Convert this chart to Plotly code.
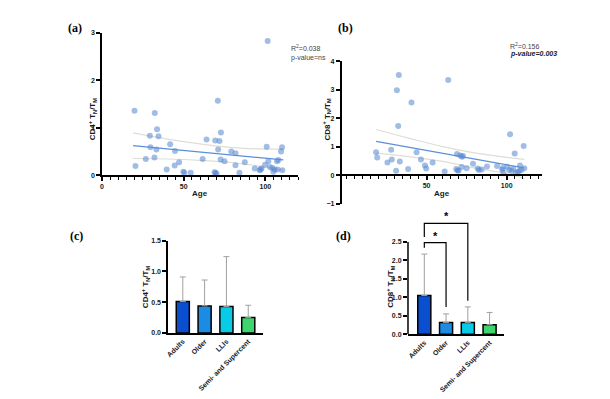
import plotly.graph_objects as go

# ---------------- data ----------------
age_a = [19.9, 20.5, 26.8, 29.3, 29.7, 32.3, 32.1, 33.7, 33.3, 34.6, 39.6, 41.7, 44.7, 44.5, 47.2,
         49.8, 50.4, 54.3, 61.6, 64.0, 68.9, 69.3, 70.9, 71.1, 71.9, 72.8, 72.6, 75.0, 69.5, 70.1,
         79.1, 81.7, 81.7, 84.1, 87.4, 93.5, 96.5, 97.6, 99.8, 100.8, 101.4, 101.8, 102.8, 104.3,
         104.9, 105.7, 107.1, 108.0, 107.5, 109.6, 110.2, 110.4, 97.0]
val_a = [1.36, 0.19, 0.34, 0.83, 0.59, 1.31, 0.37, 0.97, 0.54, 0.82, 0.12, 0.65, 0.51, 0.20, 0.27,
         0.07, 0.05, 0.05, 0.34, 0.75, 0.06, 0.73, 1.57, 0.54, 0.72, 0.90, 0.33, 0.29, 0.05, 0.03,
         0.50, 0.46, 0.21, 0.05, 0.27, 0.14, 0.10, 0.14, 0.22, 0.60, 2.83, 0.29, 0.17, 0.15,
         0.07, 0.12, 0.29, 0.32, 0.12, 0.50, 0.59, 0.10, 0.12]

age_b = [18.5, 19.2, 25.6, 27.9, 28.3, 31.0, 31.5, 32.7, 32.3, 33.3, 38.5, 40.6, 43.8, 46.5, 49.0,
         49.8, 53.8, 61.3, 63.5, 69.0, 68.5, 69.4, 70.0, 71.0, 72.1, 72.7, 71.9, 75.0, 79.0, 81.9,
         82.7, 84.4, 87.7, 94.0, 97.1, 97.9, 100.4, 101.5, 102.1, 103.1, 104.0, 105.0, 105.8, 106.9,
         107.9, 108.3, 109.2, 110.6, 111.0, 97.7]
val_b = [0.80, 0.62, 0.44, 0.89, 0.55, 0.15, 2.98, 3.51, 1.72, 0.48, 0.21, 2.55, 0.80, 0.55, 0.34,
         0.23, 0.44, 0.13, 3.34, 0.74, 0.21, 0.16, 0.16, 0.69, 0.64, 0.67, 0.28, 0.24, 0.40, 0.23,
         0.18, 0.20, 0.30, 0.32, 0.20, 0.08, 0.29, 0.18, 1.43, 0.14, 0.22, 0.76, 0.08, 0.11,
         0.15, 0.34, 0.18, 1.02, 0.24, 0.25]

fit_x_a = [19, 111]
fit_y_a = [0.62, 0.32]
band_x_a = [19, 40, 60, 80, 100, 111]
band_hi_a = [0.89, 0.76, 0.66, 0.58, 0.55, 0.55]
band_lo_a = [0.35, 0.34, 0.31, 0.26, 0.17, 0.10]

fit_x_b = [18.5, 111]
fit_y_b = [1.18, 0.25]
band_x_b = [18.5, 40, 60, 80, 100, 111]
band_hi_b = [1.60, 1.28, 1.00, 0.78, 0.62, 0.55]
band_lo_b = [0.77, 0.64, 0.48, 0.25, 0.05, -0.12]

groups = ["Adults", "Older", "LLIs", "Semi- and Supercent"]
bar_colors = ["#0a4fcf", "#1c8be3", "#08cbe6", "#3ed46e"]
mean_c = [0.51, 0.44, 0.43, 0.25]
upper_c = [0.91, 0.86, 1.24, 0.45]
mean_d = [1.05, 0.32, 0.32, 0.26]
upper_d = [2.17, 0.55, 0.74, 0.59]

# significance brackets (panel d): (left group, right group, left-foot y, bar y, right-foot y)
brackets = [("Adults", "Older", 2.34, 2.48, 0.74),
            ("Adults", "LLIs", 2.63, 3.00, 0.91)]
star_x = [0.5, 1.0]
star_y = [2.66, 3.19]

# ---------------- layout helpers ----------------
W, H = 610, 399
OFF = 8  # page body margin offset
def px(x):
    return (x - OFF) / W
def py(y):
    return 1 - (y - OFF) / H

FONT = "Liberation Sans"
PT = "rgba(86,134,208,0.55)"
LINE = "#5a8fd8"
BAND = "#deded6"

fig = go.Figure()

def scatter_panel(ax, ay, ages, vals, fx, fy, bx, bhi, blo):
    fig.add_trace(go.Scatter(x=bx, y=bhi, mode="lines", line=dict(color=BAND, width=1.2, shape="spline"),
                             xaxis=ax, yaxis=ay, hoverinfo="skip"))
    fig.add_trace(go.Scatter(x=bx, y=blo, mode="lines", line=dict(color=BAND, width=1.2, shape="spline"),
                             xaxis=ax, yaxis=ay, hoverinfo="skip"))
    fig.add_trace(go.Scatter(x=ages, y=vals, mode="markers",
                             marker=dict(color=PT, size=6, line=dict(width=0)),
                             xaxis=ax, yaxis=ay))
    fig.add_trace(go.Scatter(x=fx, y=fy, mode="lines", line=dict(color=LINE, width=1.3),
                             xaxis=ax, yaxis=ay))

scatter_panel("x", "y", age_a, val_a, fit_x_a, fit_y_a, band_x_a, band_hi_a, band_lo_a)
scatter_panel("x2", "y2", age_b, val_b, fit_x_b, fit_y_b, band_x_b, band_hi_b, band_lo_b)

def bar_panel(ax, ay, means, uppers):
    fig.add_trace(go.Bar(x=groups, y=means, width=0.6,
                         marker=dict(color=bar_colors, line=dict(color="black", width=1.5)),
                         error_y=dict(type="data", symmetric=False,
                                      array=[u - m for u, m in zip(uppers, means)],
                                      arrayminus=[0] * len(means),
                                      color="#a0a0a0", thickness=1, width=3),
                         xaxis=ax, yaxis=ay))

bar_panel("x3", "y3", mean_c, upper_c)
bar_panel("x4", "y4", mean_d, upper_d)

for g0, g1, yl, yt, yr in brackets:
    fig.add_trace(go.Scatter(x=[g0, g0, g1, g1], y=[yl, yt, yt, yr], mode="lines",
                             line=dict(color="black", width=1.2), xaxis="x4", yaxis="y4",
                             hoverinfo="skip"))

tickfont = dict(family=FONT, size=7, color="#1a1a1a", weight="bold")
base = dict(showline=True, linecolor="black", linewidth=1.5, ticks="outside", ticklen=4,
            tickwidth=1.5, tickcolor="black", showgrid=False, zeroline=False, tickfont=tickfont)
minor = dict(dtick=5, tick0=0, ticks="outside", ticklen=3, tickwidth=1, tickcolor="black", showgrid=False)

# panel b geometry
yb_rng = [-1, 4]
yb_dom = [py(203), py(58)]
xb_pos = yb_dom[0] + (0 - yb_rng[0]) / (yb_rng[1] - yb_rng[0]) * (yb_dom[1] - yb_dom[0])

# panel d geometry
yd_rng = [0, 3.36]
yd_dom = [py(336), py(336 - 3.36 * 37.6)]

fig.update_layout(
    width=W, height=H, margin=dict(l=0, r=0, t=0, b=0),
    paper_bgcolor="white", plot_bgcolor="rgba(0,0,0,0)", showlegend=False,
    font=dict(family=FONT, color="#1a1a1a"),
    xaxis=dict(base, domain=[px(100.3), px(297)], range=[0, 120], tickmode="array",
               tickvals=[0, 50, 100], minor=minor, anchor="y"),
    yaxis=dict(base, domain=[py(174), py(29.3)], range=[0, 3], dtick=1, anchor="x"),
    xaxis2=dict(base, domain=[px(340.7), px(541.7)], range=[-3, 122], tickmode="array",
                tickvals=[50, 100], minor=minor, anchor="free", position=xb_pos),
    yaxis2=dict(base, domain=yb_dom, range=yb_rng, dtick=1, anchor="x2"),
    xaxis3=dict(base, domain=[px(166.7), px(261.7)], type="category", range=[-0.67, 3.67],
                ticks="", tickangle=-45, anchor="y3"),
    yaxis3=dict(base, domain=[py(334.7), py(240.7)], range=[0, 1.5], tickmode="array",
                tickvals=[0, 0.5, 1.0, 1.5], tickformat=".1f", anchor="x3"),
    xaxis4=dict(base, domain=[px(407.3), px(504)], type="category", range=[-0.75, 3.68],
                ticks="", tickangle=-45, anchor="y4"),
    yaxis4=dict(base, domain=yd_dom, range=yd_rng, tickmode="array",
                tickvals=[0, 0.5, 1.0, 1.5, 2.0, 2.5], tickformat=".1f", showline=False, anchor="x4"),
    bargap=0.4,
)

# visible y-axis line of panel d (0 to 2.5 only)
fig.add_shape(type="line", xref="x4 domain", yref="y4", x0=0, x1=0, y0=0, y1=2.5,
              line=dict(color="black", width=1.5))

ann = []
def txt(x, y, t, size=8, bold=True, angle=0, xanchor="center", family=FONT, color="#1a1a1a"):
    ann.append(dict(x=px(x), y=py(y), xref="paper", yref="paper", text=t, showarrow=False,
                    textangle=angle, xanchor=xanchor, yanchor="middle",
                    font=dict(family=family, size=size, color=color, weight="bold" if bold else "normal")))

# panel letters
txt(73, 24, "(a)", size=12, family="Liberation Serif", color="black")
txt(345, 24, "(b)", size=12, family="Liberation Serif", color="black")
txt(75, 236, "(c)", size=12, family="Liberation Serif", color="black")
txt(343, 236, "(d)", size=12, family="Liberation Serif", color="black")

# axis titles
txt(199, 193, "Age")
txt(441, 193, "Age")
txt(91, 116.5, "CD4<sup>+</sup> T<sub>N</sub>/T<sub>M</sub>", angle=-90)
txt(326, 116.5, "CD8<sup>+</sup> T<sub>N</sub>/T<sub>M</sub>", angle=-90)
txt(143.5, 288, "CD4<sup>+</sup> T<sub>N</sub>/T<sub>M</sub>", angle=-90)
txt(389, 287, "CD8<sup>+</sup> T<sub>N</sub>/T<sub>M</sub>", angle=-90)

# statistics
txt(288, 45, "R<sup>2</sup>=0.038", size=7, bold=False, xanchor="left", color="#444")
txt(288, 55, "p-value=ns", size=7, bold=False, xanchor="left", color="#444")
txt(508, 43, "R<sup>2</sup>=0.156", size=7, bold=False, xanchor="left", color="#444")
txt(508, 51, "<i>p-value=0.003</i>", size=7, bold=True, xanchor="left", color="#222")

for sx, sy in zip(star_x, star_y):
    ann.append(dict(x=sx, y=sy, xref="x4", yref="y4", text="*", showarrow=False,
                    font=dict(family=FONT, size=11, color="black", weight="bold"),
                    xanchor="center", yanchor="middle"))

fig.update_layout(annotations=ann)
fig.write_html("out.html")
